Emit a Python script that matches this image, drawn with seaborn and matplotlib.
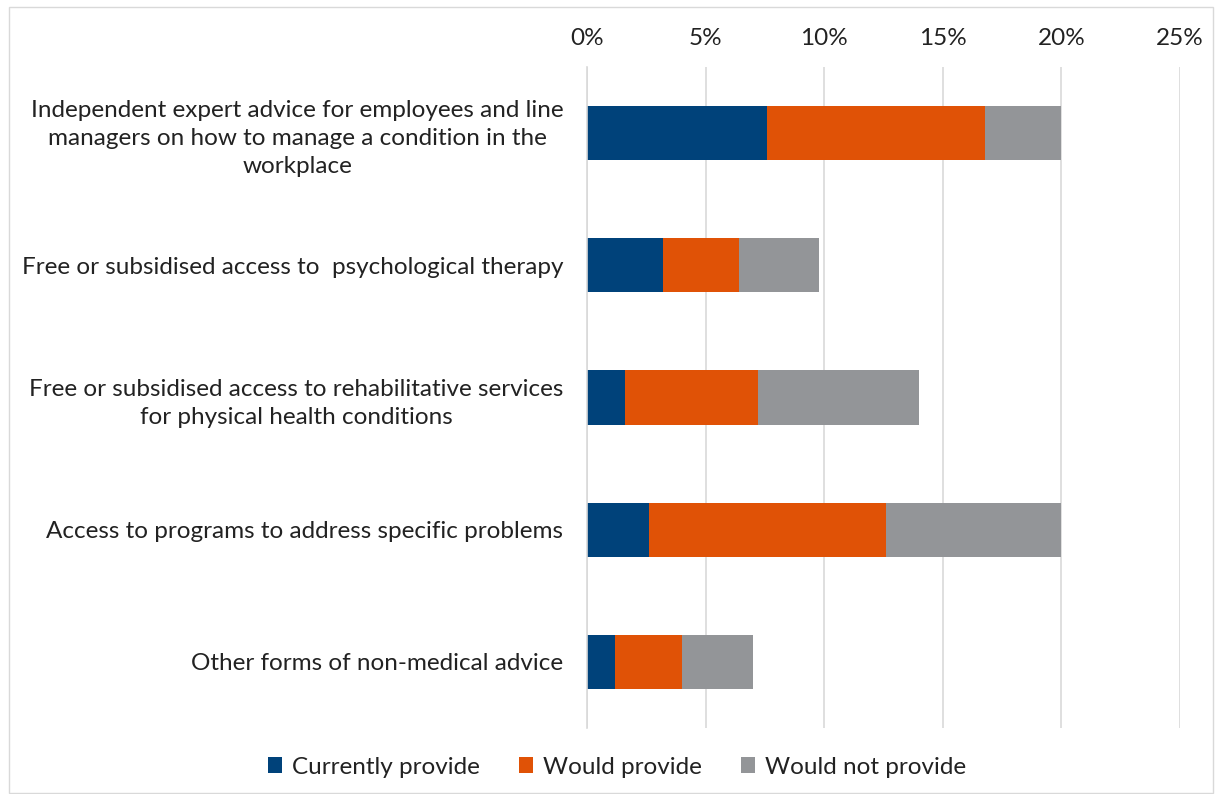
import matplotlib
matplotlib.use("Agg")
import matplotlib.pyplot as plt
import seaborn as sns
import pandas as pd
from matplotlib.patches import Patch, Rectangle

categories = [
    "Independent expert advice for employees and line\nmanagers on how to manage a condition in the\nworkplace",
    "Free or subsidised access to  psychological therapy",
    "Free or subsidised access to rehabilitative services\nfor physical health conditions",
    "Access to programs to address specific problems",
    "Other forms of non-medical advice",
]
currently_provide = [7.6, 3.2, 1.6, 2.6, 1.2]
would_provide = [9.2, 3.2, 5.6, 10.0, 2.8]
would_not_provide = [3.2, 3.4, 6.8, 7.4, 3.0]
series_names = ["Currently provide", "Would provide", "Would not provide"]
tick_values = [0, 5, 10, 15, 20, 25]
tick_labels = ["0%", "5%", "10%", "15%", "20%", "25%"]

colors = ["#00427A", "#E05206", "#939598"]

sns.set_theme(style="white")
plt.rcParams["font.family"] = ["Lato", "DejaVu Sans"]

df = pd.DataFrame({
    "cat": categories,
    "c1": currently_provide,
    "c2": [a + b for a, b in zip(currently_provide, would_provide)],
    "c3": [a + b + c for a, b, c in zip(currently_provide, would_provide, would_not_provide)],
})

fig = plt.figure(figsize=(12.15, 7.94), dpi=100)
ax = fig.add_axes([587 / 1215, 1 - 728 / 794, (1180 - 587) / 1215, (728 - 67) / 794])

for col, color in zip(["c3", "c2", "c1"], colors[::-1]):
    sns.barplot(data=df, x=col, y="cat", orient="h", color=color, width=0.41,
                saturation=1, ax=ax, linewidth=0, order=categories)

FS = 17.5
ax.set_xlim(0, 25)
ax.set_xticks(tick_values)
ax.set_xticklabels(tick_labels, fontsize=FS, color="#222222")
ax.xaxis.tick_top()
ax.tick_params(axis="x", length=0, pad=13)
ax.tick_params(axis="y", length=0, pad=17)
for lbl in ax.get_yticklabels():
    lbl.set_fontsize(FS)
    lbl.set_color("#222222")
    lbl.set_multialignment("center")
    lbl.set_linespacing(1.42)
ax.set_xlabel("")
ax.set_ylabel("")
ax.grid(axis="x", color="#D9D9D9", linewidth=1.2)
ax.set_axisbelow(True)
for s in ["top", "right", "bottom"]:
    ax.spines[s].set_visible(False)
ax.spines["left"].set_color("#D9D9D9")
ax.spines["left"].set_linewidth(1.2)

handles = [Patch(facecolor=c, edgecolor="none") for c in colors]
fig.legend(handles, series_names, loc="center", bbox_to_anchor=(617 / 1215, 1 - 767 / 794),
           ncol=3, frameon=False, fontsize=FS, handlelength=0.6, handleheight=0.6,
           handletextpad=0.4, columnspacing=1.6, labelcolor="#222222")

fig.patches.append(Rectangle((9 / 1215, 1 / 794), 1204 / 1215, 786 / 794, transform=fig.transFigure,
                             fill=False, edgecolor="#D9D9D9", linewidth=1))

fig.savefig("out.png", dpi=100)
